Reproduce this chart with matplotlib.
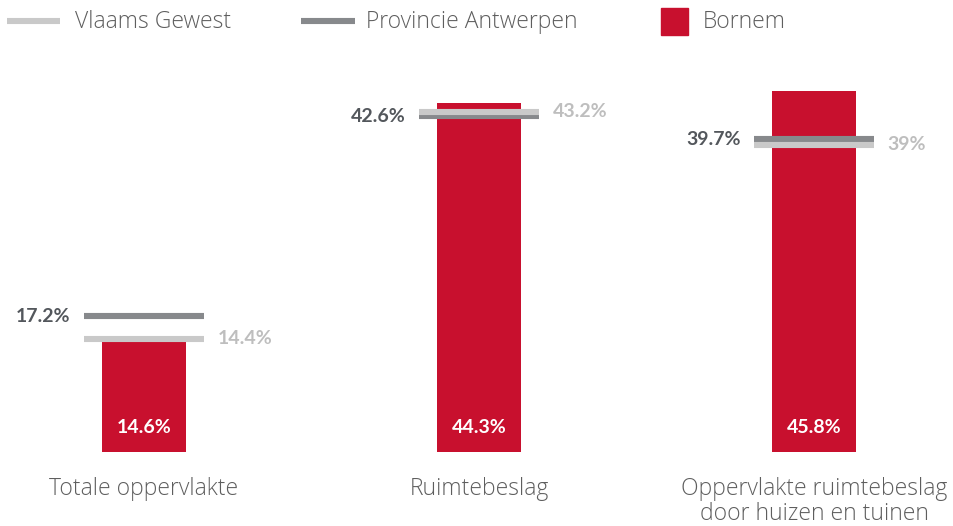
import matplotlib
matplotlib.use("Agg")
import matplotlib.pyplot as plt
from matplotlib.lines import Line2D
from matplotlib.patches import Rectangle

# Data
categories = ["Totale oppervlakte", "Ruimtebeslag", "Oppervlakte ruimtebeslag\ndoor huizen en tuinen"]
bornem = [14.6, 44.3, 45.8]
provincie = [17.2, 42.6, 39.7]
vlaams = [14.4, 43.2, 39.0]
vlaams_labels = ["14.4%", "43.2%", "39%"]
provincie_labels = ["17.2%", "42.6%", "39.7%"]
bornem_labels = ["14.6%", "44.3%", "45.8%"]
series_names = ["Vlaams Gewest", "Provincie Antwerpen", "Bornem"]

RED = "#C8102E"
LIGHT = "#C9C9C9"
DARK = "#87898C"
DARK_TXT = "#53575C"
LIGHT_TXT = "#BEBEBE"
CAT_TXT = "#5E5E5E"
FONT = "Open Sans"
NUM_FONT = "Lato"

W, H = 954, 526
fig = plt.figure(figsize=(W / 100, H / 100), dpi=100)
ax = fig.add_axes([0, 0, 1, 1])
ax.set_xlim(-0.4299, 2.4179)
ax.set_ylim(-9.39, 57.36)
ax.axis("off")

xs = list(range(len(categories)))
bar_w = 0.251
ref_w = 0.361

ax.bar(xs, bornem, width=bar_w, color=RED, zorder=2)

for i in xs:
    ax.hlines(provincie[i], i - ref_w / 2, i + ref_w / 2, color=DARK, lw=4.4, zorder=3)
for i in xs:
    ax.hlines(vlaams[i], i - ref_w / 2, i + ref_w / 2, color=LIGHT, lw=4.4, zorder=4)

for i in xs:
    ax.annotate(provincie_labels[i], (i - ref_w / 2, provincie[i]), xytext=(-9.5, 0),
                textcoords="offset points", ha="right", va="center",
                fontsize=14, fontweight="bold", color=DARK_TXT, family=NUM_FONT)
    ax.annotate(vlaams_labels[i], (i + ref_w / 2, vlaams[i]), xytext=(9.5, 0),
                textcoords="offset points", ha="left", va="center",
                fontsize=14, fontweight="bold", color=LIGHT_TXT, family=NUM_FONT)
    ax.annotate(bornem_labels[i], (i, 0), xytext=(0, 18),
                textcoords="offset points", ha="center", va="center",
                fontsize=14, fontweight="bold", color="white", family=NUM_FONT)
    ax.annotate(categories[i], (i, 0), xytext=(0, -18),
                textcoords="offset points", ha="center", va="top",
                fontsize=16.5, fontweight="light", color=CAT_TXT, family=FONT,
                linespacing=1.05)

# Legend
leg = fig.add_axes([0, 0, 1, 1], facecolor="none")
leg.set_xlim(0, W)
leg.set_ylim(H, 0)
leg.axis("off")
leg.add_line(Line2D([7, 60], [21, 21], color=LIGHT, lw=4.4, solid_capstyle="butt"))
leg.add_line(Line2D([301, 355], [21, 21], color=DARK, lw=4.4, solid_capstyle="butt"))
leg.add_patch(Rectangle((661, 8), 27, 27, color=RED))
for x, name in zip([75, 366, 703], series_names):
    leg.text(x, 22.5, name, ha="left", va="center", fontsize=16.5, fontweight="light",
             color=CAT_TXT, family=FONT)

fig.savefig("out.png", dpi=100)
